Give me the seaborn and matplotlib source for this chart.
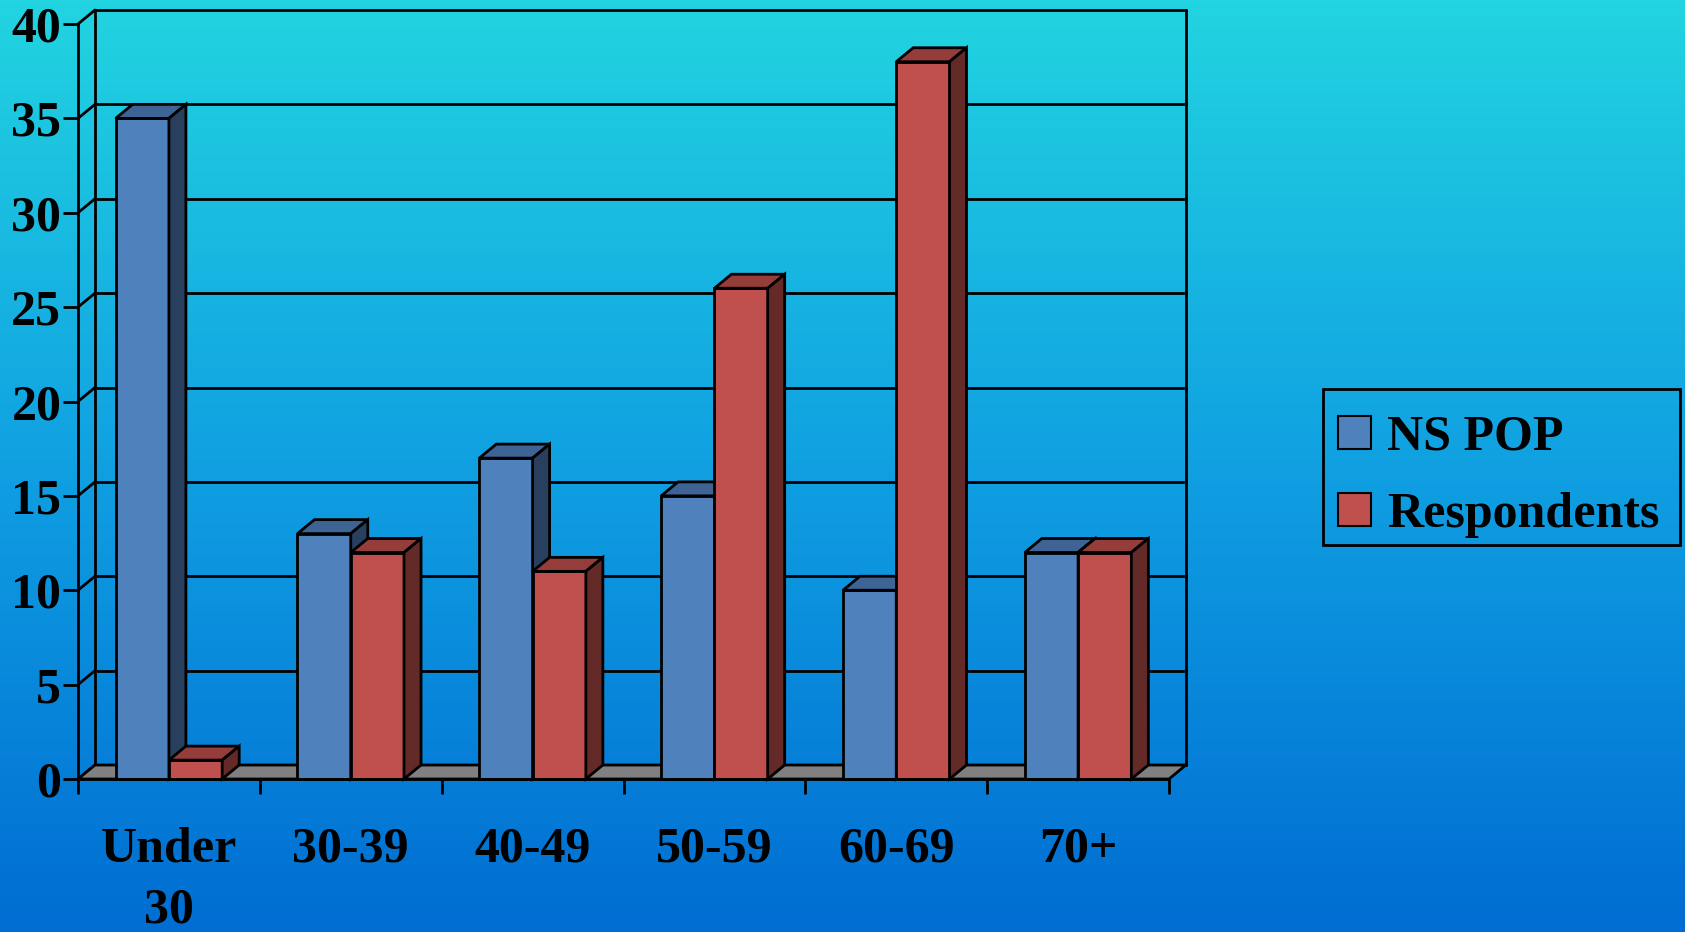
import numpy as np
import pandas as pd
import matplotlib
matplotlib.use("Agg")
import matplotlib.pyplot as plt
import seaborn as sns
from matplotlib.patches import Polygon, Patch, Rectangle
from matplotlib.colors import LinearSegmentedColormap, to_rgba

# ### Data
categories = ["Under\n30", "30-39", "40-49", "50-59", "60-69", "70+"]
series_names = ["NS POP", "Respondents"]
ns_pop = [35, 13, 17, 15, 10, 12]
respondents = [1, 12, 11, 26, 38, 12]
y_ticks = [0, 5, 10, 15, 20, 25, 30, 35, 40]

front_colors = {"NS POP": "#4F81BD", "Respondents": "#C0504D"}
top_colors = {"NS POP": "#3D6494", "Respondents": "#943D3B"}
side_colors = {"NS POP": "#283F5E", "Respondents": "#632A28"}
bg_colors = ["#22D4E0", "#10A0E2", "#006DD2"]

df = pd.DataFrame({
    "age": categories * 2,
    "value": ns_pop + respondents,
    "series": [series_names[0]] * len(categories) + [series_names[1]] * len(categories),
})

sns.set_style("white")
plt.rcParams['font.family'] = ['Liberation Serif', 'DejaVu Serif']
plt.rcParams['font.weight'] = 'bold'
plt.rcParams['text.color'] = 'black'
plt.rcParams['xtick.color'] = 'black'
plt.rcParams['ytick.color'] = 'black'
plt.rcParams['axes.labelcolor'] = 'black'

W, H = 1685, 932
fig = plt.figure(figsize=(W / 100, H / 100), dpi=100)

# gradient background
bg = fig.add_axes([0, 0, 1, 1], zorder=-10)
grad = np.linspace(0, 1, 256).reshape(-1, 1)
cmap = LinearSegmentedColormap.from_list("bg", bg_colors)
bg.imshow(grad, cmap=cmap, aspect="auto", extent=[0, 1, 0, 1], origin="upper")
bg.axis("off")

# front plane of the 3D box: x -0.5..5.5 -> px 78..1169, y 0..40 -> px 779..24
x0_px, x1_px, y0_px, y1_px = 78, 1169, 779, 24
ax = fig.add_axes([x0_px / W, 1 - y0_px / H, (x1_px - x0_px) / W, (y0_px - y1_px) / H])
ax.patch.set_alpha(0)
ax.set_xlim(-0.5, len(categories) - 0.5)
ax.set_ylim(0, 40)

# depth offset in data units (about 17px right, 14px up)
dx = 17 / ((x1_px - x0_px) / len(categories))
dy = 14 / ((y0_px - y1_px) / 40)
xl, xr = -0.5, len(categories) - 0.5
lw = 2

# back wall grid + diagonals
for t in y_ticks:
    ax.plot([xl + dx, xr + dx], [t + dy, t + dy], color="black", lw=lw, zorder=1, clip_on=False)
    ax.plot([xl, xl + dx], [t, t + dy], color="black", lw=lw, zorder=1, clip_on=False)
ax.plot([xl + dx, xl + dx], [dy, 40 + dy], color="black", lw=lw, zorder=1, clip_on=False)
ax.plot([xr + dx, xr + dx], [dy, 40 + dy], color="black", lw=lw, zorder=1, clip_on=False)

# floor
ax.add_patch(Polygon([(xl, 0), (xr, 0), (xr + dx, dy), (xl + dx, dy)], closed=True,
                     facecolor="#808080", edgecolor="black", lw=lw, zorder=2, clip_on=False))

# front faces from seaborn
sns.barplot(data=df, x="age", y="value", hue="series", hue_order=series_names,
            palette=front_colors, width=0.586, saturation=1, edgecolor="black",
            linewidth=lw, legend=False, ax=ax)

# top and side faces of each bar
for p in list(ax.patches):
    if not hasattr(p, "get_width") or p.get_height() <= 0 or p.get_width() >= 1:
        continue
    fc = p.get_facecolor()
    name = [n for n in series_names if np.allclose(to_rgba(front_colors[n]), fc, atol=0.01)]
    if not name:
        continue
    name = name[0]
    z = 5 if name == series_names[0] else 6
    bx, bw, bh = p.get_x(), p.get_width(), p.get_height()
    p.set_zorder(z)
    p.set_clip_on(False)
    ax.add_patch(Polygon([(bx, bh), (bx + bw, bh), (bx + bw + dx, bh + dy), (bx + dx, bh + dy)],
                         closed=True, facecolor=top_colors[name], edgecolor="black",
                         lw=lw, zorder=z, clip_on=False))
    ax.add_patch(Polygon([(bx + bw, 0), (bx + bw + dx, dy), (bx + bw + dx, bh + dy), (bx + bw, bh)],
                         closed=True, facecolor=side_colors[name], edgecolor="black",
                         lw=lw, zorder=z, clip_on=False))

# axes and ticks
for s in ["top", "right"]:
    ax.spines[s].set_visible(False)
for s in ["left", "bottom"]:
    ax.spines[s].set_color("black")
    ax.spines[s].set_linewidth(lw)
    ax.spines[s].set_zorder(7)
ax.set_yticks(y_ticks)
ax.set_yticklabels([str(t) for t in y_ticks])
ax.set_xticks(range(len(categories)))
ax.set_xticklabels(categories, linespacing=1.43)
ax.set_xticks(np.arange(-0.5, len(categories), 1), minor=True)
ax.tick_params(axis="y", direction="out", length=11, width=lw, color="black",
               labelsize=36, pad=1, left=True, labelcolor="black")
ax.tick_params(axis="x", which="major", length=0, labelsize=36, pad=34, labelcolor="black")
ax.tick_params(axis="x", which="minor", direction="out", length=11, width=lw,
               color="black", bottom=True)
for lab in ax.get_xticklabels() + ax.get_yticklabels():
    lab.set_fontweight("bold")
ax.set_xlabel("")
ax.set_ylabel("")
ax.grid(False)

# legend: frame drawn separately so the rows can sit where they sit in the original
box_l, box_t, box_r, box_b = 1323, 389, 1680, 545
fig.add_artist(Rectangle((box_l / W, 1 - box_b / H), (box_r - box_l) / W, (box_b - box_t) / H,
                         transform=fig.transFigure, facecolor="none", edgecolor="black", lw=lw))
handles = [Patch(facecolor=front_colors[n], edgecolor="black", lw=1.5, label=n) for n in series_names]
leg = fig.legend(handles=handles, loc="upper left",
                 bbox_to_anchor=(box_l / W, 1 - (box_t + 11) / H), borderaxespad=0,
                 prop={"size": 36, "weight": "bold"}, frameon=False,
                 handlelength=0.66, handleheight=0.66, handletextpad=0.32,
                 labelspacing=0.62, borderpad=0.3)
for t in leg.get_texts():
    t.set_color("black")

fig.savefig("out.png", dpi=100)
